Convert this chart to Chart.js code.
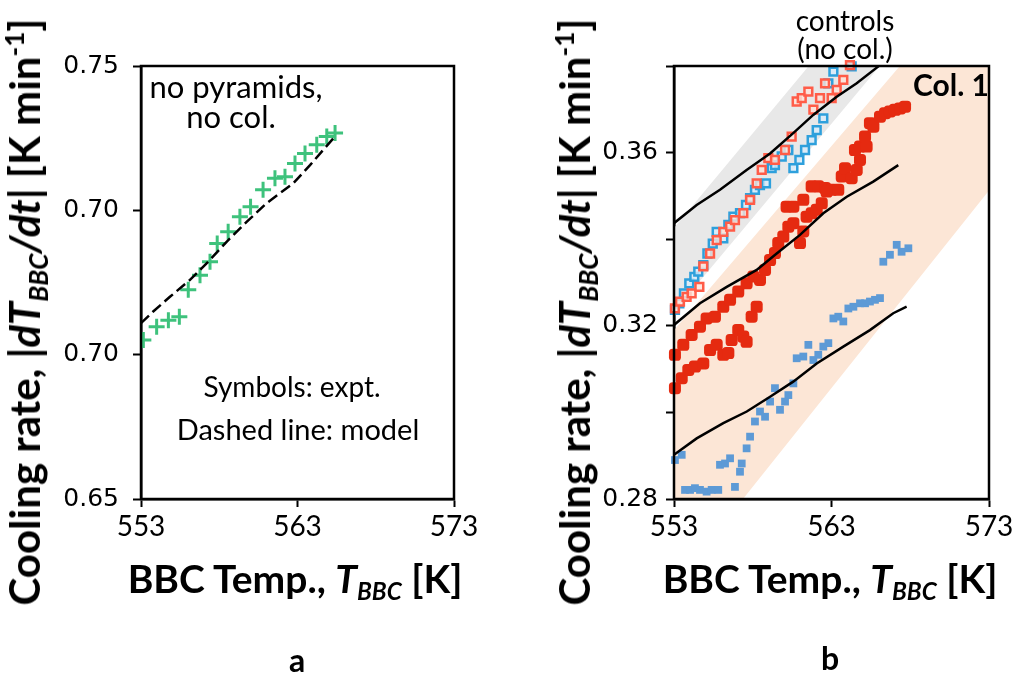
<!DOCTYPE html>
<html><head><meta charset="utf-8">
<script src="https://cdn.jsdelivr.net/npm/chart.js@4.4.0/dist/chart.umd.min.js"></script>
<style>
html,body{margin:0;padding:0;background:#fff;}
#wrap{position:relative;width:1021px;height:683px;overflow:hidden;font-family:Lato,"Open Sans",sans-serif;color:#000;}
canvas{position:absolute;top:0;}
.t{position:absolute;white-space:nowrap;line-height:1;transform:translate(-50%,-50%);text-align:center;}
.b{font-weight:bold;}
.yt{transform:translate(-50%,-50%) rotate(-90deg);}
sub{font-size:0.62em;vertical-align:-0.32em;line-height:0;}
sup{font-size:0.62em;vertical-align:0.62em;line-height:0;}
</style></head>
<body><div id="wrap">
<canvas id="ca" width="500" height="683" style="left:0"></canvas>
<canvas id="cb" width="511" height="683" style="left:510px"></canvas>

<div class="t b yt" style="left:24px;top:312px;font-size:42px">Cooling rate, |<i>dT<sub>BBC</sub>/dt</i>| [K min<sup>-1</sup>]</div>
<div class="t b yt" style="left:574px;top:312px;font-size:42px">Cooling rate, |<i>dT<sub>BBC</sub>/dt</i>| [K min<sup>-1</sup>]</div>
<div class="t b" style="left:295px;top:578px;font-size:39px">BBC Temp., <i>T<sub>BBC</sub></i> [K]</div>
<div class="t b" style="left:830px;top:578px;font-size:39px">BBC Temp., <i>T<sub>BBC</sub></i> [K]</div>
<div class="t b" style="left:297px;top:660px;font-size:32px">a</div>
<div class="t b" style="left:830px;top:658px;font-size:32px">b</div>

<div class="t" style="left:236px;top:86px;font-size:31px">no pyramids,</div>
<div class="t" style="left:231px;top:116px;font-size:31px">no col.</div>
<div class="t" style="left:292px;top:386px;font-size:28px">Symbols: expt.</div>
<div class="t" style="left:298px;top:428px;font-size:29px">Dashed line: model</div>
<div class="t" style="left:845px;top:20px;font-size:28px">controls</div>
<div class="t" style="left:845px;top:48px;font-size:28px">(no col.)</div>
<div class="t b" style="left:951px;top:84px;font-size:30px">Col. 1</div>
</div>
<script>
// ---------- Panel a ----------
const xTicksA = [553, 563, 573];
const xTickLabelsA = ['553', '563', '573'];
const yTicksA = [0.65, 0.68333, 0.71667, 0.75];
const yTickLabelsA = ['0.65', '0.70', '0.70', '0.75'];

const exptTempA = [553.15,554.0,554.75,555.45,556.02,556.77,557.41,557.87,558.57,559.32,560.0,560.8,561.56,562.2,562.84,563.48,564.23,564.87,565.4];
const exptRateA = [0.6867,0.6898,0.6913,0.6921,0.6983,0.7017,0.7048,0.7090,0.7117,0.7152,0.7175,0.7214,0.7241,0.7244,0.7275,0.7298,0.7318,0.7337,0.7345];
const modelTempA = [553.0,553.78,554.85,556.13,557.19,558.47,559.75,561.02,562.73,563.8,565.29];
const modelRateA = [0.6906,0.6933,0.6967,0.7006,0.7044,0.7094,0.7140,0.7183,0.7229,0.7271,0.7333];

// ---------- Panel b ----------
const xTicksB = [553, 563, 573];
const xTickLabelsB = ['553', '563', '573'];
const yTicksB = [0.28, 0.30, 0.32, 0.34, 0.36, 0.38];
const yTickLabelsB = ['0.28', '', '0.32', '', '0.36', ''];

const ctrlBlueT = [553.06,553.34,553.63,553.97,554.29,554.54,554.86,555.12,555.46,555.71,556.13,556.45,556.77,557.19,557.57,557.83,558.14,558.46,558.84,559.2,559.41,559.84,560.26,560.58,560.96,561.32,561.74,562.06,562.48,562.8,563.12,564.28];
const ctrlBlueR = [0.3237,0.3252,0.3275,0.3298,0.3313,0.3325,0.3340,0.3367,0.3390,0.3417,0.3402,0.3433,0.3452,0.3460,0.3479,0.3495,0.3514,0.3525,0.3529,0.3564,0.3571,0.3591,0.3606,0.3564,0.3583,0.3606,0.3629,0.3652,0.3679,0.3760,0.3787,0.3799];
const ctrlRedT = [553.06,553.38,553.8,554.12,554.61,554.86,555.29,555.71,556.13,556.56,556.87,557.4,557.83,558.25,558.57,558.99,559.41,560.05,560.47,560.79,561.11,561.53,561.85,562.27,562.59,563.01,563.33,563.75,564.17];
const ctrlRedR = [0.3240,0.3256,0.3267,0.3275,0.3290,0.3337,0.3367,0.3398,0.3417,0.3429,0.3444,0.3460,0.3491,0.3529,0.3560,0.3587,0.3583,0.3606,0.3637,0.3718,0.3726,0.3741,0.3699,0.3726,0.3760,0.3726,0.3745,0.3768,0.3802];
const col1RedT = [553.06,553.59,554.12,554.65,555.07,555.6,556.13,556.56,557.08,557.61,558.04,
  553.06,553.49,553.91,554.33,554.86,555.29,555.71,556.13,556.45,556.66,557.08,557.4,557.61,557.93,558.25,
  558.46,558.78,559.1,559.41,559.62,559.94,560.26,560.58,561.0,561.21,561.42,561.74,562.06,562.38,561.74,562.16,562.59,563.01,563.43,560.15,560.58,561.21,562.69,563.65,563.86,564.28,564.6,564.81,564.49,564.81,565.23,565.13,565.44,565.66,566.08,566.4,566.71,567.03,567.35,567.67];
const col1RedR = [0.3133,0.3156,0.3179,0.3198,0.3217,0.3221,0.3244,0.3260,0.3279,0.3298,0.3314,
  0.3056,0.3079,0.3098,0.3106,0.3113,0.3144,0.3156,0.3133,0.3137,0.3167,0.3190,0.3175,0.3163,0.3221,0.3244,
  0.3306,0.3329,0.3352,0.3368,0.3391,0.3406,0.3429,0.3437,0.3391,0.3418,0.3452,0.3460,0.3468,0.3483,0.3522,0.3522,0.3518,0.3514,0.3514,0.3475,0.3475,0.3491,0.3510,0.3545,0.3564,0.3541,0.3560,0.3583,0.3606,0.3614,0.3614,0.3637,0.3668,0.3660,0.3683,0.3691,0.3695,0.3699,0.3702,0.3706];
const col1BlueT = [553.06,553.49,553.7,554.02,554.33,554.65,555.07,555.39,555.81,555.92,556.24,556.56,556.87,557.19,557.3,557.61,557.83,558.14,558.46,558.78,559.1,559.41,559.73,560.05,560.26,560.58,560.79,561.21,561.53,561.85,562.16,562.48,562.8,563.12,563.43,563.75,564.07,564.39,564.81,565.13,565.44,565.76,566.08,566.29,566.71,567.14,567.45,567.88];
const col1BlueR = [0.2890,0.2902,0.2821,0.2821,0.2825,0.2821,0.2817,0.2821,0.2821,0.2879,0.2882,0.2894,0.2828,0.2863,0.2882,0.2917,0.2944,0.2979,0.3002,0.2990,0.3025,0.3056,0.3006,0.3025,0.3040,0.3067,0.3125,0.3129,0.3156,0.3121,0.3133,0.3152,0.3160,0.3217,0.3221,0.3210,0.3240,0.3244,0.3252,0.3252,0.3256,0.3260,0.3264,0.3348,0.3364,0.3387,0.3371,0.3379];

const modelCtrlT = [553.0,554.44,555.92,557.61,559.1,560.57,561.84,563.33,564.6,566.08];
const modelCtrlR = [0.3437,0.3479,0.3514,0.3560,0.3598,0.3645,0.3687,0.3729,0.3760,0.3802];
const modelRedT = [553.0,554.65,556.35,558.25,559.52,561.0,562.48,563.97,565.65,567.24];
const modelRedR = [0.3202,0.3252,0.3290,0.3329,0.3367,0.3410,0.3460,0.3498,0.3533,0.3571];
const modelBlueT = [553.0,554.44,556.13,557.62,559.1,560.57,562.06,563.75,565.44,566.92,567.77];
const modelBlueR = [0.2902,0.2940,0.2975,0.3002,0.3036,0.3071,0.3113,0.3152,0.3190,0.3229,0.3244];

const ctrlBandT = [553.0, 561.76, 566.27, 553.0];
const ctrlBandR = [0.3426, 0.3809, 0.3809, 0.3232];
const col1BandT = [553.0, 567.67, 573.38, 573.38, 557.38, 553.0];
const col1BandR = [0.3190, 0.3814, 0.3814, 0.3530, 0.28, 0.28];

const pts = (xs, ys) => xs.map((x, i) => ({x: x, y: ys[i]}));

const framePlugin = {
  id: 'frame',
  afterDatasetsDraw(chart) {
    const c = chart.ctx, a = chart.chartArea;
    c.save(); c.strokeStyle = '#000'; c.lineWidth = 2.5;
    c.strokeRect(a.left, a.top, a.right - a.left, a.bottom - a.top);
    c.restore();
  }
};

function axes(xTicks, xLabels, yTicks, yLabels, yWidth, yPad) {
  const grid = {drawOnChartArea: false, drawTicks: true, tickLength: 8, tickWidth: 2, tickColor: '#000'};
  const border = {display: true, color: '#000', width: 2.5};
  return {
    x: {type: 'linear', min: xTicks[0], max: xTicks[xTicks.length - 1],
      afterBuildTicks: s => { s.ticks = xTicks.map(v => ({value: v})); },
      afterFit: s => { s.height = 184; },
      ticks: {autoSkip: false, maxRotation: 0, padding: 3, color: '#000',
        font: {family: 'Lato', size: 28}, callback: (v, i) => xLabels[i]},
      grid: grid, border: border},
    y: {type: 'linear', min: yTicks[0], max: yTicks[yTicks.length - 1],
      afterBuildTicks: s => { s.ticks = yTicks.map(v => ({value: v})); },
      afterFit: s => { s.width = yWidth; },
      ticks: {autoSkip: false, padding: yPad, color: '#000',
        font: {family: 'DejaVu Sans', size: 25}, callback: (v, i) => yLabels[i]},
      grid: grid, border: border}
  };
}

const common = {
  responsive: false, animation: false, devicePixelRatio: 1,
  plugins: {legend: {display: false}, tooltip: {enabled: false}}
};

new Chart(document.getElementById('ca'), {
  type: 'scatter',
  data: {datasets: [
    {data: pts(modelTempA, modelRateA), showLine: true, pointRadius: 0, borderColor: '#000',
      borderWidth: 2.5, borderDash: [11, 5], fill: false, order: 1},
    {data: pts(exptTempA, exptRateA), pointStyle: 'cross', pointRadius: 8, borderWidth: 3,
      borderColor: '#3ec27c', backgroundColor: '#3ec27c', order: 2}
  ]},
  options: Object.assign({}, common, {
    layout: {padding: {left: 0, top: 66, right: 46, bottom: 0}},
    scales: axes(xTicksA, xTickLabelsA, yTicksA, yTickLabelsA, 141, 14)
  }),
  plugins: [framePlugin]
});

new Chart(document.getElementById('cb'), {
  type: 'scatter',
  data: {datasets: [
    {data: pts(modelCtrlT, modelCtrlR), showLine: true, pointRadius: 0, borderColor: '#000', borderWidth: 2.5, order: 1},
    {data: pts(modelRedT, modelRedR), showLine: true, pointRadius: 0, borderColor: '#000', borderWidth: 2.5, order: 1},
    {data: pts(modelBlueT, modelBlueR), showLine: true, pointRadius: 0, borderColor: '#000', borderWidth: 2.5, order: 1},
    {data: pts(col1BlueT, col1BlueR), pointStyle: 'rect', pointRadius: 5.5, borderWidth: 0,
      backgroundColor: '#5d9ad6', borderColor: '#5d9ad6', order: 3, clip: 6},
    {data: pts(col1RedT, col1RedR), pointStyle: 'rectRounded', pointRadius: 7, borderWidth: 0,
      backgroundColor: '#e52a10', borderColor: '#e52a10', order: 3, clip: 6},
    {data: pts(ctrlRedT, ctrlRedR), pointStyle: 'rect', pointRadius: 5.5, borderWidth: 2.5,
      backgroundColor: 'rgba(255,225,215,0.8)', borderColor: '#ff5c48', order: 4, clip: 6},
    {data: pts(ctrlBlueT, ctrlBlueR), pointStyle: 'rect', pointRadius: 5.5, borderWidth: 2.5,
      backgroundColor: 'rgba(215,235,250,0.8)', borderColor: '#2ea0dc', order: 4, clip: 6},
    {data: pts(ctrlBandT, ctrlBandR), showLine: true, pointRadius: 0, borderWidth: 0,
      borderColor: 'rgba(0,0,0,0)', backgroundColor: '#e8e8e8', fill: 'shape', order: 10, clip: 8},
    {data: pts(col1BandT, col1BandR), showLine: true, pointRadius: 0, borderWidth: 0,
      borderColor: 'rgba(0,0,0,0)', backgroundColor: '#fce6d6', fill: 'shape', order: 10, clip: 8}
  ]},
  options: Object.assign({}, common, {
    layout: {padding: {left: 0, top: 66, right: 32, bottom: 0}},
    scales: axes(xTicksB, xTickLabelsB, yTicksB, yTickLabelsB, 164, 8)
  }),
  plugins: [framePlugin]
});
</script>
</body></html>
